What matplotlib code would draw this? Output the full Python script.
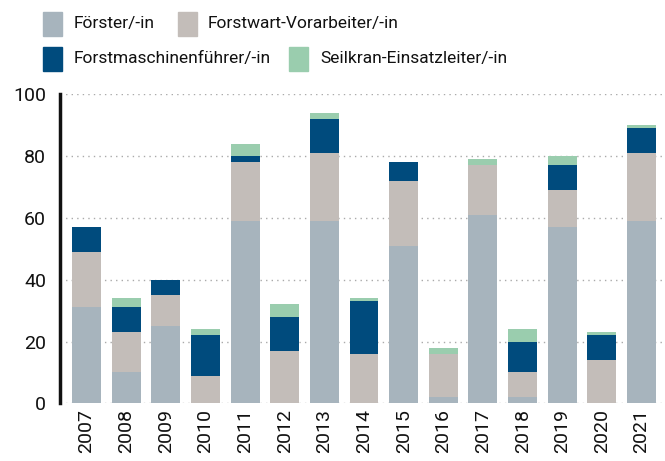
import numpy as np
import matplotlib.pyplot as plt
from matplotlib.patches import Rectangle

plt.rcParams['font.family'] = ['Roboto', 'DejaVu Sans']

# Abschlüsse pro Jahr
jahre = ["2007", "2008", "2009", "2010", "2011", "2012", "2013", "2014",
         "2015", "2016", "2017", "2018", "2019", "2020", "2021"]
foerster = [31, 10, 25, 0, 59, 0, 59, 0, 51, 2, 61, 2, 57, 0, 59]
vorarbeiter = [18, 13, 10, 9, 19, 17, 22, 16, 21, 14, 16, 8, 12, 14, 22]
maschinen = [8, 8, 5, 13, 2, 11, 11, 17, 6, 0, 0, 10, 8, 8, 8]
seilkran = [0, 3, 0, 2, 4, 4, 2, 1, 0, 2, 2, 4, 3, 1, 1]

serien = [
    ("Förster/-in", foerster, "#a7b4bd"),
    ("Forstwart-Vorarbeiter/-in", vorarbeiter, "#c3bdb9"),
    ("Forstmaschinenführer/-in", maschinen, "#004b7d"),
    ("Seilkran-Einsatzleiter/-in", seilkran, "#9acdae"),
]

fig = plt.figure(figsize=(6.65, 4.61), dpi=100)
ax = fig.add_axes([0.090, 0.125, 0.907, 0.671])

x = np.arange(len(jahre))
unten = np.zeros(len(jahre))
for name, werte, farbe in serien:
    ax.bar(x, werte, width=0.73, bottom=unten, color=farbe, zorder=2)
    unten += np.array(werte)

ax.set_ylim(0, 100)
ax.set_xlim(-0.67, 14.54)
ax.set_yticks(range(0, 101, 20))
ax.set_xticks(x)
ax.set_xticklabels(jahre, rotation=90)
ax.tick_params(axis='both', length=0, labelsize=14, colors="#111111")
ax.tick_params(axis='y', pad=10)
ax.tick_params(axis='x', pad=4)
ax.grid(axis='y', linestyle=(0, (1, 3)), color="#aaaaaa", linewidth=1, zorder=0)
for s in ["top", "right", "bottom"]:
    ax.spines[s].set_visible(False)
ax.spines["left"].set_linewidth(2.5)
ax.spines["left"].set_color("#111111")

# Legende von Hand, zwei Zeilen
pos = [(43, 74, 23.7), (178, 208, 23.7), (43, 74, 59), (289, 320, 59)]
W, H = 665, 461
for (px, tx, cy), (name, werte, farbe) in zip(pos, serien):
    fig.patches.append(Rectangle((px / W, 1 - (cy + 12) / H), 19 / W, 24 / H,
                                 color=farbe, transform=fig.transFigure))
    fig.text(tx / W, 1 - cy / H, name, fontsize=12.5, va='center', ha='left',
             color="#111111")

fig.savefig("out.png", dpi=100)
